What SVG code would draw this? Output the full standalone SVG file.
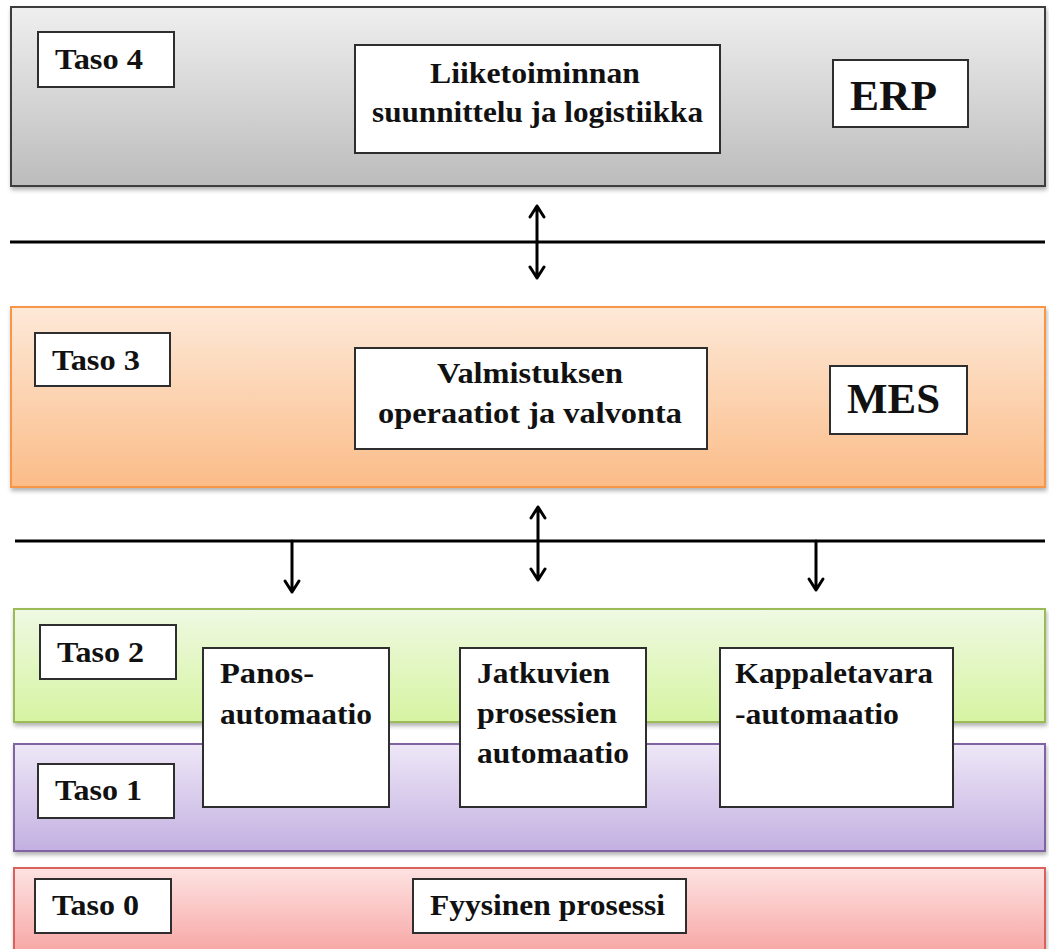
<svg xmlns="http://www.w3.org/2000/svg" width="1049" height="949" viewBox="0 0 1049 949">
  <defs>
    <linearGradient id="gGray" x1="0" y1="0" x2="0" y2="1">
      <stop offset="0" stop-color="#efefef"/>
      <stop offset="1" stop-color="#bcbcbc"/>
    </linearGradient>
    <linearGradient id="gOrange" x1="0" y1="0" x2="0" y2="1">
      <stop offset="0" stop-color="#fde9d8"/>
      <stop offset="1" stop-color="#fbbc88"/>
    </linearGradient>
    <linearGradient id="gGreen" x1="0" y1="0" x2="0" y2="1">
      <stop offset="0" stop-color="#eff9e2"/>
      <stop offset="1" stop-color="#d6f4a2"/>
    </linearGradient>
    <linearGradient id="gPurple" x1="0" y1="0" x2="0" y2="1">
      <stop offset="0" stop-color="#eee7f7"/>
      <stop offset="1" stop-color="#c3b0e1"/>
    </linearGradient>
    <linearGradient id="gRed" x1="0" y1="0" x2="0" y2="1">
      <stop offset="0" stop-color="#fde3e2"/>
      <stop offset="1" stop-color="#f7a3a1"/>
    </linearGradient>
    <filter id="shadow" x="-2%" y="-5%" width="104%" height="115%">
      <feDropShadow dx="1" dy="3" stdDeviation="2" flood-color="#000" flood-opacity="0.3"/>
    </filter>
  </defs>
  <style>
    .band { stroke-width: 2; filter: url(#shadow); }
    .box { fill: #ffffff; stroke: #2e2e2e; stroke-width: 2; }
    .t { font-family: "Liberation Serif", "Times New Roman", serif; font-weight: bold; fill: #111111; }
    .lbl { font-size: 29px; }
    .big { font-size: 42px; }
    .rule { stroke: #000; stroke-width: 3; fill: none; }
    .arr { stroke: #000; stroke-width: 3; fill: none; stroke-linecap: round; stroke-linejoin: round; }
  </style>

  <!-- Level 4: ERP -->
  <g id="taso4">
    <rect class="band" x="11" y="7" width="1034" height="179" fill="url(#gGray)" stroke="#3c3c3c"/>
    <rect class="box" x="38" y="32" width="136" height="55"/>
    <text class="t lbl" x="55" y="69" textLength="88" lengthAdjust="spacingAndGlyphs">Taso 4</text>
  </g>
  <g id="erp-function">
    <rect class="box" x="355" y="45" width="365" height="108"/>
    <text class="t lbl" x="430" y="83" textLength="210" lengthAdjust="spacingAndGlyphs">Liiketoiminnan</text>
    <text class="t lbl" x="372" y="122" textLength="331" lengthAdjust="spacingAndGlyphs">suunnittelu ja logistiikka</text>
  </g>
  <g id="erp">
    <rect class="box" x="833" y="60" width="135" height="67"/>
    <text class="t big" x="850" y="110" textLength="87" lengthAdjust="spacingAndGlyphs">ERP</text>
  </g>

  <!-- Level 3: MES -->
  <g id="taso3">
    <rect class="band" x="11" y="307" width="1034" height="180" fill="url(#gOrange)" stroke="#f79646"/>
    <rect class="box" x="35" y="333" width="135" height="53"/>
    <text class="t lbl" x="52" y="370" textLength="88" lengthAdjust="spacingAndGlyphs">Taso 3</text>
  </g>
  <g id="mes-function">
    <rect class="box" x="355" y="348" width="352" height="101"/>
    <text class="t lbl" x="437" y="383" textLength="186" lengthAdjust="spacingAndGlyphs">Valmistuksen</text>
    <text class="t lbl" x="378" y="423" textLength="304" lengthAdjust="spacingAndGlyphs">operaatiot ja valvonta</text>
  </g>
  <g id="mes">
    <rect class="box" x="830" y="366" width="137" height="68"/>
    <text class="t big" x="847" y="413" textLength="93" lengthAdjust="spacingAndGlyphs">MES</text>
  </g>

  <!-- Level 2 and level 1 bands -->
  <g id="taso2">
    <rect class="band" x="14" y="609" width="1031" height="113" fill="url(#gGreen)" stroke="#9bbb59"/>
    <rect class="box" x="40" y="625" width="136" height="54"/>
    <text class="t lbl" x="57" y="662" textLength="87" lengthAdjust="spacingAndGlyphs">Taso 2</text>
  </g>
  <g id="taso1">
    <rect class="band" x="14" y="744" width="1031" height="107" fill="url(#gPurple)" stroke="#8064a2"/>
    <rect class="box" x="38" y="764" width="136" height="54"/>
    <text class="t lbl" x="55" y="800" textLength="87" lengthAdjust="spacingAndGlyphs">Taso 1</text>
  </g>

  <!-- Automation types spanning levels 2 and 1 -->
  <g id="panos">
    <rect class="box" x="203" y="648" width="186" height="159"/>
    <text class="t lbl" x="220" y="683" textLength="94" lengthAdjust="spacingAndGlyphs">Panos-</text>
    <text class="t lbl" x="220" y="724" textLength="152" lengthAdjust="spacingAndGlyphs">automaatio</text>
  </g>
  <g id="jatkuvat">
    <rect class="box" x="460" y="648" width="186" height="159"/>
    <text class="t lbl" x="477" y="683" textLength="133" lengthAdjust="spacingAndGlyphs">Jatkuvien</text>
    <text class="t lbl" x="477" y="723" textLength="140" lengthAdjust="spacingAndGlyphs">prosessien</text>
    <text class="t lbl" x="477" y="763" textLength="152" lengthAdjust="spacingAndGlyphs">automaatio</text>
  </g>
  <g id="kappaletavara">
    <rect class="box" x="720" y="648" width="233" height="159"/>
    <text class="t lbl" x="735" y="683" textLength="198" lengthAdjust="spacingAndGlyphs">Kappaletavara</text>
    <text class="t lbl" x="735" y="724" textLength="164" lengthAdjust="spacingAndGlyphs">-automaatio</text>
  </g>

  <!-- Level 0: physical process -->
  <g id="taso0">
    <rect class="band" x="14" y="868" width="1031" height="90" fill="url(#gRed)" stroke="#d9625f"/>
    <rect class="box" x="35" y="879" width="136" height="54"/>
    <text class="t lbl" x="52" y="915" textLength="87" lengthAdjust="spacingAndGlyphs">Taso 0</text>
  </g>
  <g id="fyysinen">
    <rect class="box" x="413" y="879" width="273" height="54"/>
    <text class="t lbl" x="430" y="915" textLength="235" lengthAdjust="spacingAndGlyphs">Fyysinen prosessi</text>
  </g>

  <!-- Connectors: level boundaries and information flow -->
  <g id="connectors">
    <line class="rule" x1="10" y1="242" x2="1045" y2="242"/>
    <line class="rule" x1="15" y1="541" x2="1045" y2="541"/>

    <path class="arr" d="M537 206 V278 M530 217 L537 206 L544 217 M530 267 L537 278 L544 267"/>
    <path class="arr" d="M538 507 V580 M531 518 L538 507 L545 518 M531 569 L538 580 L545 569"/>
    <path class="arr" d="M292 541 V592 M285 581 L292 592 L299 581"/>
    <path class="arr" d="M816 541 V590 M809 579 L816 590 L823 579"/>
  </g>
</svg>
